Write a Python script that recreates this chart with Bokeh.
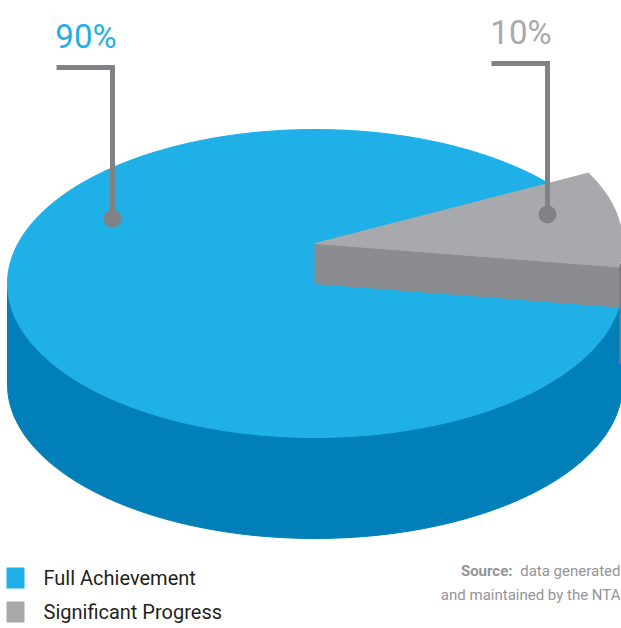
import numpy as np
from bokeh.plotting import figure
from bokeh.models import Range1d
from bokeh.core.properties import value
from bokeh.embed import file_html
from bokeh.resources import INLINE

categories = ["Full Achievement", "Significant Progress"]
shares = [90, 10]
share_labels = ["90%", "10%"]
source_bold = "Source:"
source_line1 = "data generated"
source_line2 = "and maintained by the NTA"

BLUE, BLUE_DARK = "#1eb0e6", "#007fb8"
GREY, GREY_WALL, GREY_EDGE = "#a7a9ac", "#8b8c8f", "#77787b"
LEADER = "#808285"
SOURCE = "#939598"
TEXT = "#231f20"
FONT = value("Roboto")

CX, CY, RX, RY, DEPTH, LIFT = 314.5, 283, 307.5, 154, 101, 40
START_DEG = -8.8

W, H = 621, 628
p = figure(width=W, height=H, output_backend="svg", toolbar_location=None,
           x_range=Range1d(0, W), y_range=Range1d(H, 0),
           min_border=0, x_axis_type="linear")
p.xaxis.visible = False
p.yaxis.visible = False
p.grid.visible = False
p.outline_line_color = None
p.background_fill_color = None
p.border_fill_color = "white"


def ex(deg, r=1.0):
    return CX + RX * r * np.cos(np.radians(deg))


def ey(deg, cy=CY):
    return cy - RY * np.sin(np.radians(deg))


# side wall of the disc
t = np.linspace(180, 360, 181)
p.patch(list(ex(t)) + list(ex(t[::-1])),
        list(ey(t) + DEPTH) + list(ey(t[::-1])), fill_color=BLUE_DARK, line_color=BLUE_DARK)

# top of the disc
t = np.linspace(0, 360, 361)
p.patch(ex(t), ey(t), fill_color=BLUE, line_color=BLUE)

# raised slice
span = shares[1] / sum(shares) * 360
a0, a1 = START_DEG, START_DEG + span
p.line([620, 620], [263, 364], line_color=GREY_EDGE, line_width=2.5)
p.patch([CX, CX, ex(a0), ex(a0)], [CY - LIFT, CY, ey(a0), ey(a0) - LIFT],
        fill_color=GREY_WALL, line_color=GREY_WALL)
t = np.linspace(a0, a1, 40)
p.patch([CX] + list(ex(t)), [CY - LIFT] + list(ey(t) - LIFT), fill_color=GREY, line_color=GREY)

# leaders and labels
for i, (lx, ly, ty, col) in enumerate([(56, 67, 36, BLUE), (491, 63, 32, GREY)]):
    p.line([lx, lx + 56, lx + 56], [ly, ly, ly + 151], line_color=LEADER, line_width=5,
           line_join="miter")
    p.scatter([lx + 56], [ly + 151], size=18, fill_color=LEADER, line_color=None)
    p.text([lx + 29.5], [ty], text=[share_labels[i]], text_color=col, text_font=FONT,
           text_font_size="33px", text_align="center", text_baseline="middle")

# legend
for i, (sy, col) in enumerate([(577.5, BLUE), (611.5, GREY)]):
    p.rect([15], [sy], width=18, height=21, fill_color=col, line_color=None)
    p.text([43], [sy], text=[categories[i]], text_color=TEXT, text_font=FONT,
           text_font_size="20px", text_align="left", text_baseline="middle")

# source
p.text([512], [570], text=[source_bold], text_color=SOURCE, text_font=FONT, text_font_style="bold",
       text_font_size="15px", text_align="right", text_baseline="middle")
p.text([620], [570], text=[source_line1], text_color=SOURCE, text_font=FONT,
       text_font_size="15px", text_align="right", text_baseline="middle")
p.text([620], [594], text=[source_line2], text_color=SOURCE, text_font=FONT,
       text_font_size="15px", text_align="right", text_baseline="middle")

open("out.html", "w").write(file_html(p, INLINE))
